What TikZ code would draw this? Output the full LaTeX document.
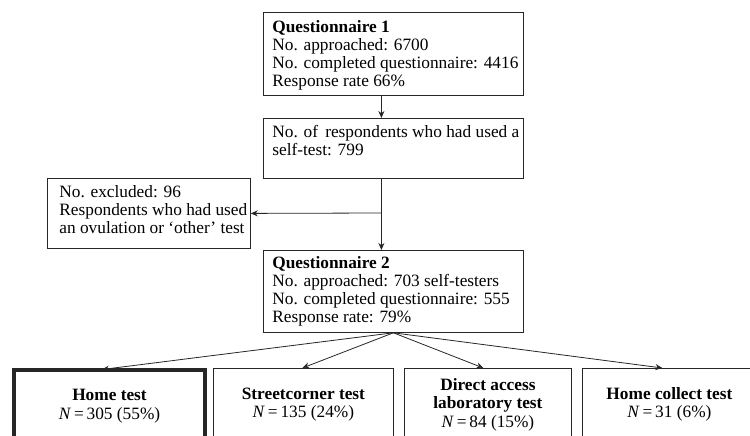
\documentclass[tikz,border=0pt]{standalone}
\usepackage{fontspec}
\setmainfont{Liberation Serif}
\usetikzlibrary{arrows.meta}
\newcommand{\tline}[1]{\hbox{#1}}
\newcommand{\boxtext}[3]{\hbox to #1{\vbox to #2{\baselineskip=18pt\lineskiplimit=-20pt #3\vfill}\hss}}
\tikzset{
  frame/.style={draw=black!85, line width=0.8pt, anchor=north west, inner sep=0pt},
  bottombox/.style={draw=black!85, line width=0.8pt, anchor=north west, align=center,
    minimum height=72pt, inner sep=0pt, font=\fontsize{17.3}{18.5}\selectfont},
  conn/.style={draw=black!85, line width=0.8pt, -{Stealth[length=7pt,width=6pt]}}
}
\begin{document}
\begin{tikzpicture}[x=1pt,y=-1pt,font=\fontsize{17.3}{18}\selectfont]
\useasboundingbox (0,0) rectangle (750,436);
% top boxes
\node[frame, inner xsep=9pt, inner ysep=8pt, minimum width=260pt] (q1) at (263,12)
  {\boxtext{242pt}{67pt}{\tline{\textbf{Questionnaire 1}}\tline{No. approached: 6700}\tline{No. completed questionnaire: 4416}\tline{Response rate 66\%}}};
\node[frame, inner xsep=9pt, inner ysep=7pt, minimum width=260pt] (sel) at (263,118)
  {\boxtext{242pt}{46pt}{\tline{No. of\, respondents who had used a}\tline{self-test: 799}}};
\node[frame, inner xsep=12pt, inner ysep=7pt, minimum width=203pt] (exc) at (47,178)
  {\boxtext{179pt}{56pt}{\tline{No. excluded: 96}\tline{Respondents who had used}\tline{an ovulation or `other' test}}};
\node[frame, inner xsep=9pt, inner ysep=6pt, minimum width=260pt] (q2) at (263,250)
  {\boxtext{242pt}{70pt}{\tline{\textbf{Questionnaire 2}}\tline{No. approached: 703 self-testers}\tline{No. completed questionnaire: 555}\tline{Response rate: 79\%}}};
% bottom boxes
\node[bottombox, line width=4pt, minimum width=191pt] (home) at (12,368)
  {\textbf{Home test}\\\textit{N}\,=\,305 (55\%)};
\node[bottombox, minimum width=180pt] (street) at (213,368)
  {\textbf{Streetcorner test}\\\textit{N}\,=\,135 (24\%)};
\node[bottombox, minimum width=167pt] (direct) at (404,368)
  {\textbf{Direct access}\\\textbf{laboratory test}\\\textit{N}\,=\,84 (15\%)};
\node[bottombox, minimum width=174pt] (collect) at (582,368)
  {\textbf{Home collect test}\\\textit{N}\,=\,31 (6\%)};
% connectors
\coordinate (br) at (381,213);
\draw[conn] ([xshift=-12pt]q1.south) -- ([xshift=-12pt]sel.north);
\draw[conn] ([xshift=-12pt]sel.south) -- ([xshift=-12pt]q2.north);
\draw[conn] (br) -- (exc.east);
\draw[conn] (q2.south) -- ([xshift=-7.5pt,yshift=-1.5pt]home.north);
\draw[conn] (q2.south) -- ([xshift=-1pt]street.north);
\draw[conn] (q2.south) -- ([xshift=-4.5pt]direct.north);
\draw[conn] (q2.south) -- ([xshift=-7pt]collect.north);
\end{tikzpicture}
\end{document}
